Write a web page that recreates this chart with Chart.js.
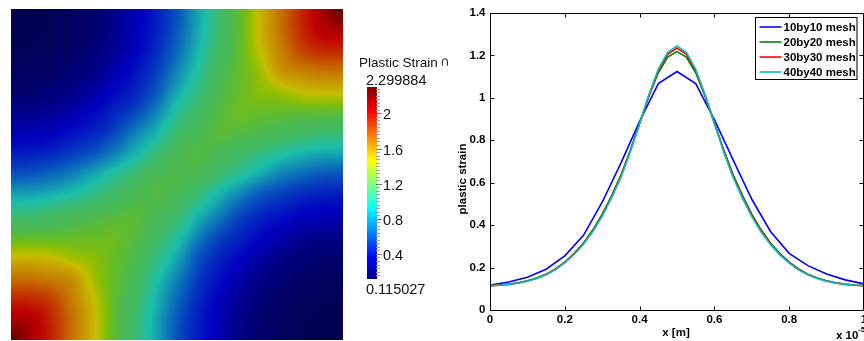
<!DOCTYPE html>
<html>
<head>
<meta charset="utf-8">
<script src="https://cdn.jsdelivr.net/npm/chart.js@4/dist/chart.umd.min.js"></script>
<style>
  html, body { margin: 0; padding: 0; background: #fff; }
  body { width: 864px; height: 341px; overflow: hidden; position: relative; }
  canvas { position: absolute; top: 0; }
  #heat { left: 0; }
  #cbar { left: 350px; }
  #lines { left: 440px; }
</style>
</head>
<body>
<canvas id="heat" width="350" height="341"></canvas>
<canvas id="cbar" width="110" height="341"></canvas>
<canvas id="lines" width="425" height="341"></canvas>
<script>
'use strict';

// ---- field data (plastic strain on the unit square, rows from top y=1 to bottom y=0)
const VMIN = 0.115027;
const VMAX = 2.299884;
const GRID_X = [0, 0.0625, 0.125, 0.1875, 0.25, 0.3125, 0.375, 0.4375, 0.5,
  0.5625, 0.625, 0.6875, 0.75, 0.8125, 0.875, 0.9375, 1];
const GRID_Y = [1, 0.9375, 0.875, 0.8125, 0.75, 0.6875, 0.625, 0.5625, 0.5,
  0.4375, 0.375, 0.3125, 0.25, 0.1875, 0.125, 0.0625, 0];
const STRAIN_GRID = [
  [0.115, 0.12, 0.13, 0.15, 0.18, 0.24, 0.33, 0.44, 0.60, 0.85, 1.08, 1.30, 1.52, 1.72, 1.93, 2.10, 2.30],
  [0.12, 0.124, 0.135, 0.155, 0.187, 0.25, 0.34, 0.45, 0.62, 0.86, 1.09, 1.31, 1.52, 1.72, 1.92, 2.06, 2.10],
  [0.13, 0.135, 0.146, 0.168, 0.207, 0.27, 0.36, 0.48, 0.67, 0.90, 1.13, 1.31, 1.50, 1.68, 1.85, 1.92, 1.93],
  [0.15, 0.155, 0.168, 0.20, 0.24, 0.32, 0.41, 0.54, 0.75, 0.96, 1.18, 1.32, 1.44, 1.62, 1.68, 1.72, 1.72],
  [0.18, 0.187, 0.207, 0.24, 0.30, 0.38, 0.47, 0.615, 0.86, 1.04, 1.23, 1.33, 1.40, 1.44, 1.50, 1.52, 1.52],
  [0.24, 0.25, 0.27, 0.32, 0.38, 0.47, 0.57, 0.75, 0.98, 1.13, 1.27, 1.34, 1.33, 1.32, 1.31, 1.31, 1.30],
  [0.33, 0.34, 0.36, 0.41, 0.47, 0.57, 0.74, 0.90, 1.10, 1.20, 1.29, 1.27, 1.23, 1.18, 1.13, 1.09, 1.08],
  [0.44, 0.45, 0.48, 0.54, 0.615, 0.75, 0.90, 1.07, 1.20, 1.265, 1.20, 1.13, 1.04, 0.96, 0.90, 0.86, 0.85],
  [0.60, 0.62, 0.67, 0.75, 0.86, 0.98, 1.10, 1.20, 1.245, 1.20, 1.10, 0.98, 0.86, 0.75, 0.67, 0.62, 0.60],
  [0.85, 0.86, 0.90, 0.96, 1.04, 1.13, 1.20, 1.265, 1.20, 1.07, 0.90, 0.75, 0.615, 0.54, 0.48, 0.45, 0.44],
  [1.08, 1.09, 1.13, 1.18, 1.23, 1.27, 1.29, 1.20, 1.10, 0.90, 0.74, 0.57, 0.47, 0.41, 0.36, 0.34, 0.33],
  [1.30, 1.31, 1.31, 1.32, 1.33, 1.34, 1.27, 1.13, 0.98, 0.75, 0.57, 0.47, 0.38, 0.32, 0.27, 0.25, 0.24],
  [1.52, 1.52, 1.50, 1.44, 1.40, 1.33, 1.23, 1.04, 0.86, 0.615, 0.47, 0.38, 0.30, 0.24, 0.207, 0.187, 0.18],
  [1.72, 1.72, 1.68, 1.62, 1.44, 1.32, 1.18, 0.96, 0.75, 0.54, 0.41, 0.32, 0.24, 0.20, 0.168, 0.155, 0.15],
  [1.93, 1.92, 1.85, 1.68, 1.50, 1.31, 1.13, 0.90, 0.67, 0.48, 0.36, 0.27, 0.207, 0.168, 0.146, 0.135, 0.13],
  [2.10, 2.06, 1.92, 1.72, 1.52, 1.31, 1.09, 0.86, 0.62, 0.45, 0.34, 0.25, 0.187, 0.155, 0.135, 0.124, 0.12],
  [2.30, 2.10, 1.93, 1.72, 1.52, 1.30, 1.08, 0.85, 0.60, 0.44, 0.33, 0.24, 0.18, 0.15, 0.13, 0.12, 0.115],
];
const CB_TICKS = [0.4, 0.8, 1.2, 1.6, 2];
const CB_LABELS = ['0.4', '0.8', '1.2', '1.6', '2'];

// ---- line data (plastic strain along x)
const X_COARSE = [0, 0.05, 0.1, 0.15, 0.2, 0.25, 0.3, 0.35, 0.4, 0.45, 0.5,
  0.55, 0.6, 0.65, 0.7, 0.75, 0.8, 0.85, 0.9, 0.95, 1];
const X_FINE = [0, 0.025, 0.05, 0.075, 0.1, 0.125, 0.15, 0.175, 0.2, 0.225, 0.25,
  0.275, 0.3, 0.325, 0.35, 0.375, 0.4, 0.425, 0.45, 0.475, 0.5,
  0.525, 0.55, 0.575, 0.6, 0.625, 0.65, 0.675, 0.7, 0.725, 0.75,
  0.775, 0.8, 0.825, 0.85, 0.875, 0.9, 0.925, 0.95, 0.975, 1];
const MESH10 = [0.118, 0.132, 0.154, 0.192, 0.255, 0.352, 0.508, 0.692, 0.889, 1.067, 1.124,
  1.067, 0.897, 0.708, 0.522, 0.370, 0.267, 0.209, 0.170, 0.142, 0.123];
const MESH20 = [0.115, 0.118, 0.122, 0.128, 0.138, 0.151, 0.169, 0.194, 0.226, 0.267, 0.316,
  0.378, 0.452, 0.538, 0.636, 0.752, 0.880, 1.008, 1.118, 1.192, 1.218,
  1.192, 1.118, 1.008, 0.882, 0.755, 0.638, 0.540, 0.452, 0.378, 0.316,
  0.267, 0.226, 0.194, 0.169, 0.151, 0.138, 0.128, 0.122, 0.118, 0.115];
const MESH30 = [0.115, 0.117, 0.121, 0.127, 0.137, 0.150, 0.167, 0.192, 0.224, 0.264, 0.313,
  0.374, 0.447, 0.533, 0.630, 0.748, 0.879, 1.012, 1.128, 1.205, 1.235,
  1.205, 1.128, 1.012, 0.881, 0.750, 0.630, 0.533, 0.446, 0.373, 0.312,
  0.263, 0.224, 0.191, 0.167, 0.150, 0.137, 0.127, 0.121, 0.117, 0.115];
const MESH40 = [0.115, 0.117, 0.121, 0.127, 0.136, 0.149, 0.166, 0.190, 0.222, 0.262, 0.310,
  0.370, 0.442, 0.528, 0.625, 0.745, 0.878, 1.015, 1.135, 1.215, 1.245,
  1.215, 1.135, 1.015, 0.880, 0.745, 0.625, 0.527, 0.440, 0.368, 0.308,
  0.260, 0.221, 0.189, 0.166, 0.149, 0.136, 0.127, 0.121, 0.117, 0.115];
const SERIES = ['10by10 mesh', '20by20 mesh', '30by30 mesh', '40by40 mesh'];
const X_TICKS = [0, 0.2, 0.4, 0.6, 0.8, 1];
const X_LABELS = ['0', '0.2', '0.4', '0.6', '0.8', '1'];
const Y_TICKS = [0, 0.2, 0.4, 0.6, 0.8, 1, 1.2, 1.4];
const Y_LABELS = ['0', '0.2', '0.4', '0.6', '0.8', '1', '1.2', '1.4'];

// ---- colours
const HEAT_STOPS = [
  [0.115, 0, 0, 78], [0.36, 0, 0, 192], [0.64, 8, 95, 190], [0.93, 27, 190, 170],
  [1.10, 62, 186, 105], [1.24, 76, 186, 78], [1.33, 100, 188, 40], [1.42, 145, 190, 0],
  [1.50, 198, 190, 0], [1.75, 198, 105, 0], [2.03, 192, 0, 0], [2.3, 95, 0, 0],
];
const JET_STOPS = [
  [0.115, 0, 0, 140], [0.357, 0, 0, 255], [0.912, 0, 255, 255], [1.19, 128, 255, 128],
  [1.467, 255, 255, 0], [2.022, 255, 0, 0], [2.3, 128, 0, 0],
];
const LINE_COLORS = ['#0000ff', '#008000', '#ff0000', '#00bfbf'];
const FONT = '"Liberation Sans", Arial, Helvetica, sans-serif';

function pickColor(stops, v) {
  if (v <= stops[0][0]) return stops[0].slice(1);
  for (let i = 1; i < stops.length; i++) {
    if (v <= stops[i][0]) {
      const a = stops[i - 1], b = stops[i];
      const t = (v - a[0]) / (b[0] - a[0]);
      return [a[1] + (b[1] - a[1]) * t, a[2] + (b[2] - a[2]) * t, a[3] + (b[3] - a[3]) * t];
    }
  }
  return stops[stops.length - 1].slice(1);
}

function cr(p0, p1, p2, p3, t) {
  return p1 + 0.5 * t * (p2 - p0 + t * (2 * p0 - 5 * p1 + 4 * p2 - p3 + t * (3 * (p1 - p2) + p3 - p0)));
}

// smooth shading between the grid nodes
function sampleField(x, y) {
  const n = GRID_X.length - 1;
  const gx = (x - GRID_X[0]) / (GRID_X[1] - GRID_X[0]);
  const gy = (y - GRID_Y[0]) / (GRID_Y[1] - GRID_Y[0]);
  const i = Math.min(n - 1, Math.max(0, Math.floor(gx)));
  const j = Math.min(n - 1, Math.max(0, Math.floor(gy)));
  const tx = gx - i, ty = gy - j;
  const cl = (k) => Math.min(n, Math.max(0, k));
  const rows = [];
  for (let r = -1; r <= 2; r++) {
    const row = STRAIN_GRID[cl(j + r)];
    rows.push(cr(row[cl(i - 1)], row[cl(i)], row[cl(i + 1)], row[cl(i + 2)], tx));
  }
  const v = cr(rows[0], rows[1], rows[2], rows[3], ty);
  return Math.min(VMAX, Math.max(VMIN, v));
}

const baseOpts = {
  responsive: false,
  animation: false,
  devicePixelRatio: 1,
  events: [],
  plugins: { legend: { display: false }, tooltip: { enabled: false } },
};

// ---- heat map
const heatPlugin = {
  id: 'heat',
  beforeDatasetsDraw(chart) {
    const { ctx, chartArea: a, scales } = chart;
    const w = Math.round(a.right - a.left), h = Math.round(a.bottom - a.top);
    const img = ctx.createImageData(w, h);
    for (let py = 0; py < h; py++) {
      const vy = scales.y.getValueForPixel(a.top + py + 0.5);
      for (let px = 0; px < w; px++) {
        const vx = scales.x.getValueForPixel(a.left + px + 0.5);
        const c = pickColor(HEAT_STOPS, sampleField(vx, vy));
        const k = (py * w + px) * 4;
        img.data[k] = c[0];
        img.data[k + 1] = c[1];
        img.data[k + 2] = c[2];
        img.data[k + 3] = 255;
      }
    }
    ctx.putImageData(img, Math.round(a.left), Math.round(a.top));
  },
};

new Chart(document.getElementById('heat'), {
  type: 'scatter',
  data: { datasets: [{ data: [] }] },
  options: {
    ...baseOpts,
    layout: { padding: { left: 11, top: 9, right: 7, bottom: 1 } },
    scales: {
      x: { type: 'linear', min: 0, max: 1, display: false },
      y: { type: 'linear', min: 0, max: 1, display: false },
    },
  },
  plugins: [heatPlugin],
});

// ---- colour bar
const cbarPlugin = {
  id: 'cbar',
  afterDraw(chart) {
    const { ctx, chartArea: a, scales } = chart;
    const y = scales.y;
    for (let py = Math.floor(a.top); py < Math.ceil(a.bottom); py++) {
      const c = pickColor(JET_STOPS, y.getValueForPixel(py + 0.5));
      ctx.fillStyle = 'rgb(' + c.map(Math.round).join(',') + ')';
      ctx.fillRect(a.left, py, a.right - a.left, 1);
    }
    ctx.strokeStyle = '#a0a0a0';
    ctx.lineWidth = 1;
    for (let v = 0.16; v < VMAX; v += 0.04) {
      const p = Math.round(y.getPixelForValue(v)) + 0.5;
      ctx.beginPath();
      ctx.moveTo(a.right - 1, p);
      ctx.lineTo(a.right + 3, p);
      ctx.stroke();
    }
    ctx.fillStyle = '#111';
    ctx.font = '14.5px ' + FONT;
    ctx.textBaseline = 'middle';
    ctx.textAlign = 'left';
    CB_TICKS.forEach((v, i) => {
      const p = Math.round(y.getPixelForValue(v)) + 0.5;
      ctx.strokeStyle = '#777';
      ctx.beginPath();
      ctx.moveTo(a.right - 1, p);
      ctx.lineTo(a.right + 5, p);
      ctx.stroke();
      ctx.fillText(CB_LABELS[i], a.right + 6, p + 1);
    });
    ctx.fillText(VMAX.toFixed(6), a.left - 1, a.top - 6);
    ctx.fillText(VMIN.toFixed(6), a.left - 1, a.bottom + 11);
    ctx.font = '13.5px ' + FONT;
    ctx.fillText('Plastic Strain', a.left - 8, a.top - 24);
  },
};

new Chart(document.getElementById('cbar'), {
  type: 'scatter',
  data: { datasets: [{ data: [] }] },
  options: {
    ...baseOpts,
    layout: { padding: { left: 17, top: 87, right: 83, bottom: 62 } },
    scales: {
      x: { type: 'linear', min: 0, max: 1, display: false },
      y: { type: 'linear', min: VMIN, max: VMAX, display: false },
    },
  },
  plugins: [cbarPlugin],
});

// ---- line plot
const framePlugin = {
  id: 'frame',
  afterDraw(chart) {
    const { ctx, chartArea: a, scales } = chart;
    const L = Math.round(a.left) + 0.5, R = Math.round(a.right) - 0.5;
    const T = Math.round(a.top) + 0.5, B = Math.round(a.bottom) + 0.5;
    ctx.save();
    ctx.strokeStyle = '#000';
    ctx.lineWidth = 1;
    ctx.strokeRect(L, T, R - L, B - T);
    ctx.beginPath();
    X_TICKS.forEach((v) => {
      const p = Math.round(scales.x.getPixelForValue(v)) + 0.5;
      ctx.moveTo(p, B); ctx.lineTo(p, B - 4);
      ctx.moveTo(p, T); ctx.lineTo(p, T + 4);
    });
    Y_TICKS.forEach((v) => {
      const p = Math.round(scales.y.getPixelForValue(v)) + 0.5;
      ctx.moveTo(L, p); ctx.lineTo(L + 4, p);
      ctx.moveTo(R, p); ctx.lineTo(R - 4, p);
    });
    ctx.stroke();

    ctx.fillStyle = '#000';
    ctx.font = 'bold 11.5px ' + FONT;
    ctx.textBaseline = 'middle';
    ctx.textAlign = 'center';
    X_TICKS.forEach((v, i) => ctx.fillText(X_LABELS[i], scales.x.getPixelForValue(v), B + 9.5));
    ctx.textAlign = 'right';
    Y_TICKS.forEach((v, i) => ctx.fillText(Y_LABELS[i], L - 5, scales.y.getPixelForValue(v)));
    ctx.textAlign = 'center';
    ctx.fillText('x [m]', scales.x.getPixelForValue(0.5) - 1, B + 22);
    ctx.textAlign = 'left';
    ctx.fillText('x 10', 396, 336);
    ctx.font = 'bold 8px ' + FONT;
    ctx.fillText('-5', 418, 330);
    ctx.save();
    ctx.translate(22.7, 179);
    ctx.rotate(-Math.PI / 2);
    ctx.textAlign = 'center';
    ctx.font = 'bold 11.5px ' + FONT;
    ctx.fillText('plastic strain', 0, 0);
    ctx.restore();

    ctx.font = '13px "DejaVu Sans", sans-serif';
    ctx.fillStyle = '#333';
    ctx.textAlign = 'left';
    ctx.fillText('\u2229', 0, 63);

    // legend box
    const bx = R - 6.5, by = T + 4;
    const bw = 101.5, bh = 62;
    ctx.fillStyle = '#fff';
    ctx.fillRect(bx - bw, by, bw, bh);
    ctx.strokeStyle = '#000';
    ctx.strokeRect(bx - bw, by, bw, bh);
    ctx.font = 'bold 11.5px ' + FONT;
    ctx.lineWidth = 1.6;
    SERIES.forEach((s, i) => {
      const yy = by + 9.5 + i * 15;
      ctx.strokeStyle = LINE_COLORS[i];
      ctx.beginPath();
      ctx.moveTo(bx - bw + 4, yy);
      ctx.lineTo(bx - bw + 26, yy);
      ctx.stroke();
      ctx.fillStyle = '#000';
      ctx.fillText(s, bx - bw + 28, yy + 0.5);
    });
    ctx.restore();
  },
};

const toPts = (xs, ys) => xs.map((x, i) => ({ x, y: ys[i] }));
const lineData = [toPts(X_COARSE, MESH10), toPts(X_FINE, MESH20), toPts(X_FINE, MESH30), toPts(X_FINE, MESH40)];

new Chart(document.getElementById('lines'), {
  type: 'line',
  data: {
    datasets: SERIES.map((s, i) => ({
      label: s,
      data: lineData[i],
      borderColor: LINE_COLORS[i],
      backgroundColor: LINE_COLORS[i],
      borderWidth: 1.6,
      pointRadius: 0,
      tension: 0,
      order: 3 - i,
    })),
  },
  options: {
    ...baseOpts,
    layout: { padding: { left: 50, top: 13, right: 1, bottom: 31 } },
    scales: {
      x: { type: 'linear', min: 0, max: 1, display: false },
      y: { type: 'linear', min: 0, max: 1.4, display: false },
    },
  },
  plugins: [framePlugin],
});
</script>
</body>
</html>
